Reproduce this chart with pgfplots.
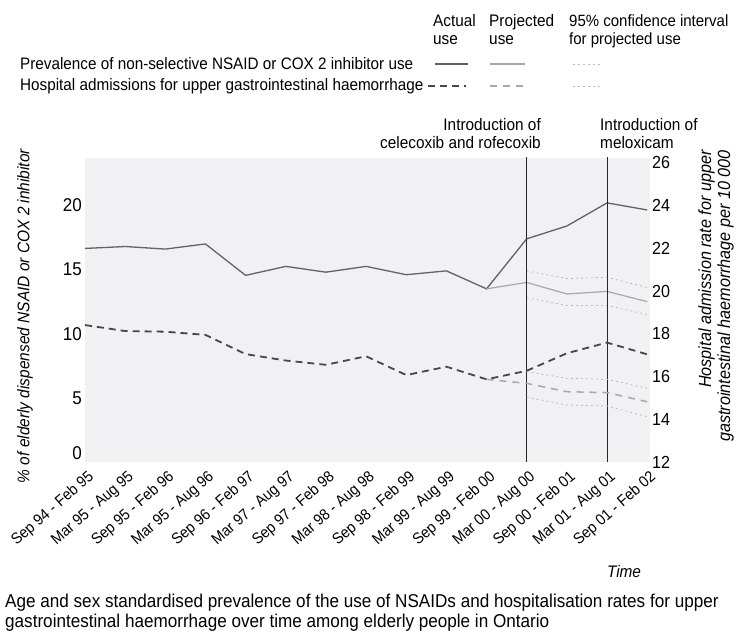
\documentclass[border=0pt]{standalone}
\usepackage{fontspec}
\setmainfont{Liberation Sans}[FakeStretch=0.92]
\usepackage{pgfplots}
\pgfplotsset{compat=1.18}
\definecolor{actual}{HTML}{636363}
\definecolor{actualdash}{HTML}{474747}
\definecolor{proj}{HTML}{A8A8A8}
\definecolor{ci}{HTML}{BBBBBB}
\definecolor{bg}{HTML}{F1F1F3}
\begin{document}
\begin{tikzpicture}[x=1pt,y=1pt,font=\fontsize{16.7}{18}\selectfont]
\useasboundingbox (0,0) rectangle (738,-634);
% ---- legend ----
\node[anchor=north west,align=left,inner sep=0] at (433,-14) {Actual\\use};
\node[anchor=north west,align=left,inner sep=0] at (489,-14) {Projected\\use};
\node[anchor=north west,align=left,inner sep=0,font=\fontsize{16.3}{18}\selectfont] at (569,-14) {95\% confidence interval\\for projected use};
\node[anchor=west,inner sep=0,font=\fontsize{16.6}{18}\selectfont] at (20,-64) {Prevalence of non-selective NSAID or COX 2 inhibitor use};
\node[anchor=west,inner sep=0,font=\fontsize{16.6}{18}\selectfont] at (20,-86) {Hospital admissions for upper gastrointestinal haemorrhage};
\draw[actual,line width=1.3pt] (435,-64) -- (468,-64);
\draw[proj,line width=1.2pt] (490,-64) -- (525,-64);
\draw[ci,line width=0.8pt,dash pattern=on 2pt off 3pt] (573,-64) -- (603,-64);
\draw[actualdash,line width=1.8pt,dash pattern=on 7pt off 5pt] (428,-86) -- (466,-86);
\draw[proj,line width=1.5pt,dash pattern=on 7pt off 6pt] (490,-86) -- (525,-86);
\draw[ci,line width=0.8pt,dash pattern=on 2pt off 3pt] (573,-86) -- (603,-86);
% ---- annotations ----
\node[anchor=south east,align=right,inner sep=0] at (541,-149) {Introduction of\\celecoxib and rofecoxib};
\node[anchor=south west,align=left,inner sep=0] at (600,-149) {Introduction of\\meloxicam};
% ---- axis labels ----
\node[rotate=90,inner sep=0,font=\fontsize{16.8}{18}\selectfont\itshape] at (25,-316) {\% of elderly dispensed NSAID or COX 2 inhibitor};
\node[rotate=90,anchor=east,inner sep=0,align=right,font=\fontsize{17.6}{19}\selectfont\itshape] at (716,-150) {Hospital admission rate for upper\\gastrointestinal haemorrhage per 10 000};
\node[inner sep=0,font=\fontsize{16.7}{18}\selectfont\itshape] at (624,-572) {Time};
\node[anchor=north west,align=left,inner sep=0,font=\fontsize{18.6}{19.5}\selectfont] at (5,-594) {Age and sex standardised prevalence of the use of NSAIDs and hospitalisation rates for upper\\gastrointestinal haemorrhage over time among elderly people in Ontario};
% ---- left axis ----
\begin{axis}[
  at={(85pt,-462pt)}, anchor=south west, scale only axis,
  width=565pt, height=304pt,
  xmin=0, xmax=14.07, ymin=0, ymax=23.7,
  clip=false,
  axis line style={draw=none},
  major tick length=0pt,
  axis background/.style={fill=bg},
  /pgf/number format/assume math mode=true,
  ytick={5,10,15,20},
  extra y ticks={0.7}, extra y tick labels={0},
  yticklabel style={font=\fontsize{18.5}{20}\selectfont, inner sep=3pt},
  xtick={0,...,14},
  xticklabels={Sep 94 - Feb 95, Mar 95 - Aug 95, Sep 95 - Feb 96, Mar 95 - Aug 96, Sep 96 - Feb 97, Mar 97 - Aug 97, Sep 97 - Feb 98, Mar 98 - Aug 98, Sep 98 - Feb 99, Mar 99 - Aug 99, Sep 99 - Feb 00, Mar 00 - Aug 00, Sep 00 - Feb 01, Mar 01 - Aug 01, Sep 01 - Feb 02},
  xticklabel style={xshift=2pt, yshift=-6pt, rotate=41, anchor=north east, inner sep=1pt, font=\fontsize{15.6}{17}\selectfont},
]
\addplot[actual, line width=1.3pt] coordinates {
(0,16.65) (1,16.8) (2,16.6) (3,17.0) (4,14.55) (5,15.25) (6,14.8) (7,15.25)
(8,14.6) (9,14.9) (10,13.5) (11,17.4) (12,18.4) (13,20.2) (14,19.65)};
\addplot[proj, line width=1.2pt] coordinates {(10,13.5) (11,14.0) (12,13.1) (13,13.3) (14,12.5)};
\addplot[ci, line width=0.8pt, dash pattern=on 2pt off 3pt] coordinates {(11,14.9) (12,14.3) (13,14.4) (14,13.6)};
\addplot[ci, line width=0.8pt, dash pattern=on 2pt off 3pt] coordinates {(11,12.8) (12,12.2) (13,12.2) (14,11.5)};
\addplot[black!85, line width=1pt] coordinates {(11,0) (11,23.8)};
\addplot[black!85, line width=1pt] coordinates {(13,0) (13,23.8)};
\end{axis}
% ---- right axis ----
\begin{axis}[
  at={(85pt,-462pt)}, anchor=south west, scale only axis,
  width=565pt, height=304pt,
  xmin=0, xmax=14.07, ymin=12, ymax=26.23,
  clip=false,
  axis line style={draw=none},
  major tick length=0pt,
  xtick=\empty,
  /pgf/number format/assume math mode=true,
  yticklabel pos=right,
  ytick={12,14,...,26},
  yticklabel style={font=\fontsize{17.5}{19}\selectfont, inner sep=2pt},
]
\addplot[actualdash, line width=1.8pt, dash pattern=on 7pt off 5pt] coordinates {
(0,18.41) (1,18.13) (2,18.1) (3,17.95) (4,17.05) (5,16.75) (6,16.55) (7,16.95)
(8,16.07) (9,16.46) (10,15.87) (11,16.27) (12,17.09) (13,17.59) (14,17.04)};
\addplot[proj, line width=1.5pt, dash pattern=on 7pt off 6pt] coordinates {(10,15.87) (11,15.68) (12,15.29) (13,15.25) (14,14.82)};
\addplot[ci, line width=0.8pt, dash pattern=on 2pt off 3pt] coordinates {(11,16.23) (12,15.92) (13,15.87) (14,15.45)};
\addplot[ci, line width=0.8pt, dash pattern=on 2pt off 3pt] coordinates {(11,15.03) (12,14.67) (13,14.62) (14,14.12)};
\end{axis}
\end{tikzpicture}
\end{document}
